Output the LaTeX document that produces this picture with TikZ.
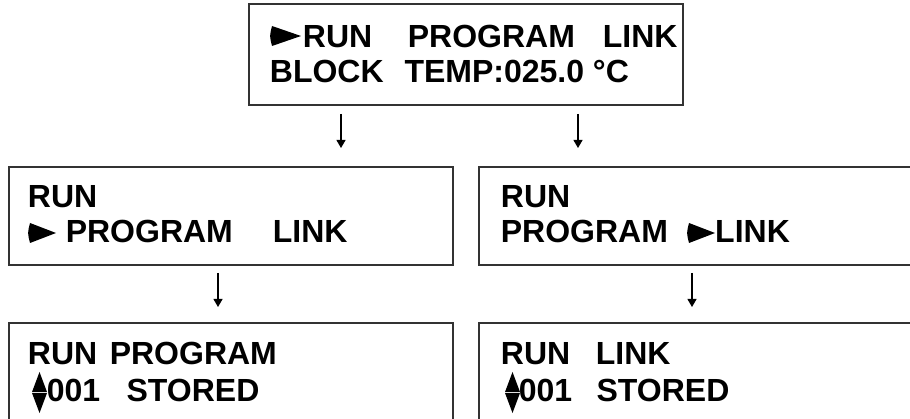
\documentclass[tikz,border=0pt]{standalone}
\usepackage{fontspec}
\setmainfont{Liberation Sans}
\usetikzlibrary{arrows.meta}
\begin{document}
\begin{tikzpicture}[x=1pt,y=-1pt,
  box/.style={draw=black!80,line width=1.6pt,anchor=north west,inner sep=0pt,minimum width=#1},
  lcd/.style={anchor=base west,inner sep=0pt,font=\bfseries\fontsize{32}{32}\selectfont},
  arr/.style={line width=1.1pt,-{Triangle[width=9pt,length=8pt]}},
  pointer/.style={fill=black,draw=none}]
\useasboundingbox (0,0) rectangle (910,419);
\begin{scope}
\clip (0,0) rectangle (910,419);
% boxes
\node[box=434pt,minimum height=101pt] (top) at (248,3) {};
\node[box=444pt,minimum height=98pt] (ml) at (8,166) {};
\node[box=440pt,minimum height=98pt] (mr) at (478,166) {};
\node[box=444pt,minimum height=110pt] (bl) at (8,322) {};
\node[box=440pt,minimum height=110pt] (br) at (478,322) {};
\end{scope}
% top texts
\fill[pointer] (272,26) .. controls (269.5,36) .. (272,46) -- (301,36) -- cycle;
\node[lcd] (t1) at (302.7,47.5) {RUN};
\node[lcd] (t2) at (407.6,47.5) {PROGRAM};
\node[lcd] (t3) at (602.7,47.5) {LINK};
\node[lcd] (t4) at (269.7,83) {BLOCK};
\node[lcd] (t5) at (404.3,83) {TEMP:025.0 °C};
% middle left
\node[lcd] (m1) at (27.7,208) {RUN};
\fill[pointer] (30,223) .. controls (27.5,233) .. (30,243) -- (56,233) -- cycle;
\node[lcd] (m2) at (65.6,243) {PROGRAM};
\node[lcd] (m3) at (272.7,243) {LINK};
% middle right
\node[lcd] (n1) at (500.7,208) {RUN};
\node[lcd] (n2) at (500.6,243) {PROGRAM};
\fill[pointer] (689,223) .. controls (686.5,233) .. (689,243) -- (715,233) -- cycle;
\node[lcd] (n3) at (715,243) {LINK};
% bottom left
\node[lcd] (b1) at (27.7,365) {RUN};
\node[lcd] (b2) at (109.6,365) {PROGRAM};
\fill[pointer] (32,392) -- (39.5,372) -- (47,392) -- cycle;
\fill[pointer] (32,393) -- (39.5,413) -- (47,393) -- cycle;
\node[lcd] (b3) at (46.7,402) {001};
\node[lcd] (b4) at (126.4,402) {STORED};
% bottom right
\node[lcd] (c1) at (500.7,365) {RUN};
\node[lcd] (c2) at (595.7,365) {LINK};
\fill[pointer] (505,392) -- (512.5,372) -- (520,392) -- cycle;
\fill[pointer] (505,393) -- (512.5,413) -- (520,393) -- cycle;
\node[lcd] (c3) at (518.7,402) {001};
\node[lcd] (c4) at (596.4,402) {STORED};
% arrows
\coordinate (a1s) at (341,114); \coordinate (a1e) at (341,148);
\coordinate (a2s) at (578,114); \coordinate (a2e) at (578,148);
\coordinate (a3s) at (218,273); \coordinate (a3e) at (218,307);
\coordinate (a4s) at (692,273); \coordinate (a4e) at (692,307);
\draw[arr] (a1s) -- (a1e);
\draw[arr] (a2s) -- (a2e);
\draw[arr] (a3s) -- (a3e);
\draw[arr] (a4s) -- (a4e);
\end{tikzpicture}
\end{document}
